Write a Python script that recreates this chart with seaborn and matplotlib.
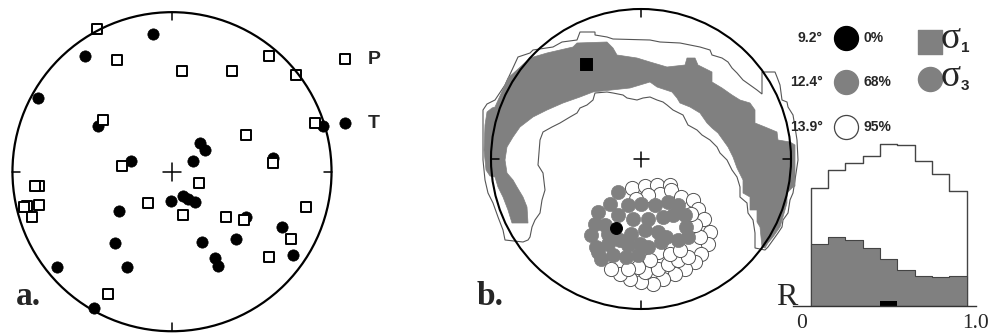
import numpy as np
import matplotlib
matplotlib.use("Agg")
import matplotlib.pyplot as plt
from matplotlib.patches import Circle, Polygon
import seaborn as sns

p_x = [-0.472, -0.343, 0.061, 0.378, 0.610, 0.777, -0.434, 0.897, 0.462, -0.312,
       0.635, 0.169, -0.832, -0.859, -0.907, -0.928, -0.832, -0.876, -0.149, 0.067,
       0.339, 0.451, 0.840, 0.746, 0.610, -0.403]
p_y = [0.893, 0.700, 0.631, 0.633, 0.727, 0.606, 0.324, 0.303, 0.232, 0.036,
       0.053, -0.073, -0.088, -0.090, -0.213, -0.219, -0.207, -0.286, -0.198, -0.271,
       -0.282, -0.303, -0.219, -0.424, -0.533, -0.767]
t_x = [-0.121, -0.545, -0.838, -0.464, 0.949, 0.176, 0.207, 0.134, -0.257, 0.635,
       -0.006, 0.067, 0.102, 0.144, -0.332, 0.462, -0.357, 0.190, 0.401, 0.692,
       0.270, 0.290, 0.761, -0.719, -0.284, -0.487]
t_y = [0.861, 0.725, 0.460, 0.287, 0.287, 0.178, 0.136, 0.069, 0.069, 0.084,
       -0.184, -0.152, -0.173, -0.188, -0.245, -0.282, -0.449, -0.443, -0.424, -0.345,
       -0.539, -0.591, -0.522, -0.596, -0.596, -0.856]

# --- b. confidence regions (net radius = 150) ---
s1_68 = [(-129, -64), (-133, -51), (-138, -38), (-143, -28), (-146, -18), (-151, -17),
         (-155, -11), (-157, 9), (-156, 34), (-154, 47), (-149, 51), (-146, 52),
         (-133, 81), (-124, 89), (-111, 101), (-94, 106), (-68, 112), (-64, 116),
         (-34, 117), (-28, 111), (-24, 104), (-4, 101), (9, 97), (26, 92), (44, 94),
         (46, 101), (54, 101), (57, 94), (71, 87), (71, 77), (81, 71), (91, 64),
         (99, 59), (109, 56), (114, 49), (114, 36), (124, 32), (136, 27), (137, 19),
         (149, 17), (154, 14), (154, -27), (151, -29), (146, -34), (146, -44),
         (142, -58), (139, -68), (132, -78), (127, -84), (124, -89), (121, -88),
         (119, -68), (116, -63), (116, -51), (109, -51), (109, -38), (102, -34),
         (102, -21), (96, -9), (92, 2), (87, 12), (82, 19), (77, 26), (71, 31),
         (66, 36), (59, 46), (49, 52), (39, 56), (36, 61), (31, 67), (16, 72),
         (9, 77), (-11, 71), (-48, 67), (-61, 62), (-78, 56), (-94, 49), (-108, 42),
         (-121, 32), (-128, 22), (-134, 12), (-136, -1), (-134, -14), (-128, -21),
         (-124, -28), (-118, -38), (-114, -48), (-113, -64)]
s1_95 = [(-158, 49), (-154, 55), (-146, 59), (-136, 74), (-129, 89), (-123, 102),
         (-111, 106), (-108, 109), (-88, 112), (-79, 117), (-64, 119), (-61, 127),
         (-46, 127), (-46, 124), (-34, 122), (-28, 120), (9, 119), (19, 117),
         (39, 116), (59, 112), (69, 109), (71, 104), (81, 101), (87, 97), (91, 91),
         (96, 86), (102, 79), (109, 74), (116, 69), (121, 65), (121, 87), (134, 87),
         (136, 82), (139, 74), (141, 59), (146, 57), (147, 52), (152, 44), (154, 32),
         (156, 19), (157, -1), (154, -21), (152, -34), (149, -41), (147, -54),
         (142, -61), (141, -68), (137, -74), (132, -81), (127, -88), (124, -91),
         (114, -89), (114, -74), (112, -61), (107, -54), (106, -44), (99, -38),
         (99, -28), (96, -18), (91, -11), (86, -1), (79, 6), (76, 12), (69, 19),
         (61, 24), (56, 29), (47, 34), (42, 44), (32, 49), (26, 54), (22, 57),
         (16, 59), (9, 62), (2, 61), (-4, 59), (-14, 61), (-18, 64), (-28, 66),
         (-34, 67), (-46, 66), (-48, 59), (-54, 54), (-61, 51), (-64, 46), (-71, 42),
         (-81, 36), (-89, 32), (-98, 27), (-101, 19), (-103, -6), (-98, -14),
         (-96, -31), (-99, -41), (-101, -54), (-106, -61), (-109, -68), (-111, -78),
         (-113, -81), (-118, -83), (-136, -81), (-138, -71), (-143, -58),
         (-148, -44), (-153, -34), (-156, -21), (-158, -1)]
s1_best = (-55, 95)

s3_95 = [(-9, -29), (4, -27), (16, -26), (29, -26), (19, -35), (7, -36), (-5, -40),
         (30, -31), (40, -38), (52, -41), (57, -50), (63, -60), (69, -73), (67, -85),
         (60, -95), (54, -103), (44, -110), (34, -115), (22, -120), (12, -125),
         (0, -123), (-11, -120), (-21, -115), (-30, -110), (4, -113), (17, -110),
         (27, -105), (37, -101), (47, -98), (17, -93), (29, -95), (39, -91),
         (9, -101), (-3, -108), (-13, -110), (59, -78), (54, -66), (50, -55)]
s3_68 = [(-23, -33), (-31, -45), (-43, -53), (-46, -65), (-50, -76), (-45, -88),
         (-40, -100), (-28, -96), (-15, -98), (-3, -96), (7, -88), (-13, -46),
         (0, -45), (14, -46), (27, -43), (37, -46), (44, -56), (45, -68), (47, -78),
         (37, -81), (25, -78), (17, -73), (4, -71), (-10, -75), (-21, -81),
         (-33, -85), (-36, -66), (-23, -56), (-8, -60), (7, -60), (22, -58),
         (32, -56), (-33, -75), (-13, -86), (-1, -85), (20, -83), (-43, -93)]
s3_best = (-25, -69)

# --- R histogram ---
r_edges = [0.05, 0.15, 0.25, 0.35, 0.45, 0.55, 0.65, 0.75, 0.85, 0.95]
r_mid = [0.1, 0.2, 0.3, 0.4, 0.5, 0.6, 0.7, 0.8, 0.9]
r_95 = [118, 136, 143, 150, 162, 161, 145, 132, 115]
r_68 = [62, 69, 66, 58, 47, 36, 30, 29, 30]
r_0 = [0, 0, 0, 0, 5, 0, 0, 0, 0]
r_ticks = [0, 0.1, 0.2, 0.3, 0.4, 0.5, 0.6, 0.7, 0.8, 0.9, 1.0]

legend_angles = ["9.2°", "12.4°", "13.9°"]
legend_levels = ["0%", "68%", "95%"]

GREY = "#808080"
W, H = 991, 336

sns.set_style("white")
plt.rcParams["font.family"] = ["Liberation Sans", "DejaVu Sans"]

fig = plt.figure(figsize=(9.91, 3.36), dpi=100)


def px_axes(x0, y0, x1, y1):
    # axes from pixel box (top-left origin)
    return fig.add_axes([x0 / W, 1 - y1 / H, (x1 - x0) / W, (y1 - y0) / H])


def net_frame(ax, r, tick, cross, lw):
    ax.add_patch(Circle((0, 0), r, fill=False, ec="black", lw=lw, zorder=6))
    for dx, dy in [(0, 1), (0, -1), (1, 0), (-1, 0)]:
        ax.plot([dx * r, dx * (r - tick)], [dy * r, dy * (r - tick)],
                color="black", lw=1.1, zorder=6)
    ax.plot([-cross, cross], [0, 0], color="black", lw=1.1, zorder=6)
    ax.plot([0, 0], [-cross, cross], color="black", lw=1.1, zorder=6)


# ---------- a. ----------
ax_a = px_axes(1.3, 1.0, 342.7, 342.4)
ax_a.set_xlim(-1.07, 1.07)
ax_a.set_ylim(-1.07, 1.07)
ax_a.axis("off")
net_frame(ax_a, 1.0, 0.05, 0.056, 1.6)
sns.scatterplot(x=t_x, y=t_y, marker="o", s=66, color="black", edgecolor="black",
                linewidth=0.5, ax=ax_a, zorder=3)
sns.scatterplot(x=p_x, y=p_y, marker="s", s=52, color="white", edgecolor="black",
                linewidth=1.4, ax=ax_a, zorder=4)
# key
sns.scatterplot(x=[1.085], y=[0.707], marker="s", s=52, color="white", edgecolor="black",
                linewidth=1.4, ax=ax_a, zorder=4)
sns.scatterplot(x=[1.085], y=[0.303], marker="o", s=66, color="black", edgecolor="black",
                linewidth=0.5, ax=ax_a, zorder=4)
for c in ax_a.collections:
    c.set_clip_on(False)
fig.text(368 / W, 1 - 60 / H, "P", fontsize=14, fontweight="bold", va="center")
fig.text(368 / W, 1 - 124 / H, "T", fontsize=14, fontweight="bold", va="center")
fig.text(16 / W, 1 - 305 / H, "a.", fontsize=24, fontweight="bold",
         family="Liberation Serif", va="baseline")

# ---------- b. ----------
ax_b = px_axes(476, -6, 806, 324)
ax_b.set_xlim(-165, 165)
ax_b.set_ylim(-165, 165)
ax_b.axis("off")
ax_b.patch.set_alpha(0)
ax_b.add_patch(Polygon(s1_95, closed=True, fill=False, ec="#555555", lw=0.8, zorder=1))
ax_b.add_patch(Polygon(s1_68, closed=True, fc=GREY, ec=GREY, lw=0.5, zorder=2))
s3w = np.array(s3_95)
s3g = np.array(s3_68)
sns.scatterplot(x=s3w[:, 0], y=s3w[:, 1], marker="o", s=104, color="white",
                edgecolor="#555555", linewidth=0.7, ax=ax_b, zorder=3)
sns.scatterplot(x=s3g[:, 0], y=s3g[:, 1], marker="o", s=104, color=GREY,
                edgecolor=GREY, linewidth=0.5, ax=ax_b, zorder=4)
sns.scatterplot(x=[s3_best[0]], y=[s3_best[1]], marker="o", s=74, color="black",
                edgecolor="black", ax=ax_b, zorder=5)
sns.scatterplot(x=[s1_best[0]], y=[s1_best[1]], marker="s", s=74, color="black",
                edgecolor="black", ax=ax_b, zorder=5)
net_frame(ax_b, 150, 8, 7.5, 1.5)
fig.text(477 / W, 1 - 305 / H, "b.", fontsize=24, fontweight="bold",
         family="Liberation Serif", va="baseline")

# ---------- legend ----------
ax_l = px_axes(780, 0, 991, 140)
ax_l.set_xlim(780, 991)
ax_l.set_ylim(140, 0)
ax_l.axis("off")
ax_l.patch.set_alpha(0)
rows_y = [38, 82, 127]
for yy, ang, lev, fc in zip(rows_y, legend_angles, legend_levels, ["black", GREY, "white"]):
    ax_l.text(823, yy, ang, ha="right", va="center", fontsize=10, fontweight="bold")
    ax_l.scatter([846], [yy], s=300, marker="o", facecolor=fc,
                 edgecolor="#444444" if fc == "white" else fc, lw=0.9)
    ax_l.text(864, yy, lev, ha="left", va="center", fontsize=10, fontweight="bold")
ax_l.scatter([930], [41.7], s=310, marker="s", facecolor=GREY, edgecolor=GREY)
ax_l.scatter([930], [79], s=300, marker="o", facecolor=GREY, edgecolor=GREY)
for yy, sub in [(48.5, "1"), (86.5, "3")]:
    ax_l.text(941, yy, "σ", ha="left", va="baseline", fontsize=27,
              family="Liberation Serif")
    ax_l.text(961, yy + 4, sub, ha="left", va="baseline", fontsize=11, fontweight="bold")

# ---------- R histogram ----------
ax_h = px_axes(793, 140, 976, 305.7)
ax_h.patch.set_alpha(0)
sns.histplot(x=r_mid, weights=r_95, bins=r_edges, element="step", fill=True,
             color="white", edgecolor="#444444", linewidth=1.0, alpha=1, ax=ax_h)
sns.histplot(x=r_mid, weights=r_68, bins=r_edges, element="step", fill=True,
             color=GREY, edgecolor="#444444", linewidth=0.8, alpha=1, ax=ax_h)
sns.histplot(x=r_mid, weights=r_0, bins=r_edges, element="bars", fill=True,
             color="black", edgecolor="none", alpha=1, ax=ax_h)
ax_h.set_xlim(-0.052, 1.004)
ax_h.set_ylim(0, 165.7)
ax_h.set_xlabel("")
ax_h.set_ylabel("")
for s in ["left", "top", "right"]:
    ax_h.spines[s].set_visible(False)
ax_h.spines["bottom"].set_color("#333333")
ax_h.spines["bottom"].set_linewidth(1.0)
ax_h.set_yticks([])
ax_h.set_xticks(r_ticks)
ax_h.set_xticklabels(["0"] + [""] * 9 + ["1.0"], family="Liberation Serif", fontsize=15.5)
ax_h.tick_params(axis="x", direction="out", length=3, width=0.8, color="#555555", pad=3)
fig.text(786.5 / W, 1 - 305 / H, "R", fontsize=23, family="Liberation Serif",
         ha="center", va="baseline")

fig.savefig("out.png", dpi=100)
